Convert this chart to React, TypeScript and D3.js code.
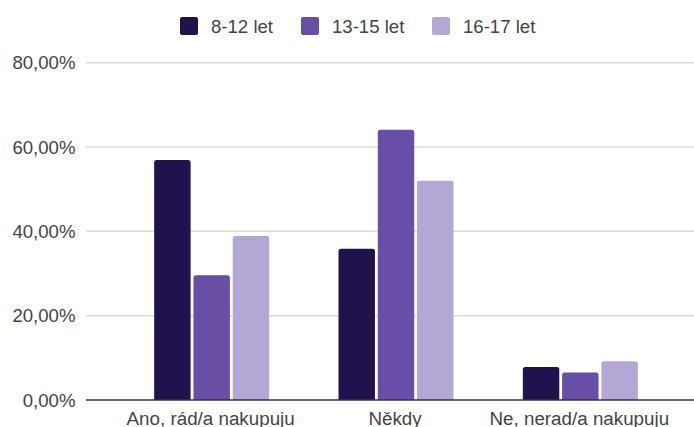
import React from "react";
import * as d3 from "d3";

const categories = ["Ano, rád/a nakupuju", "Někdy", "Ne, nerad/a nakupuju"];
const seriesNames = ["8-12 let", "13-15 let", "16-17 let"];
const seriesColors = ["#20124d", "#674ea7", "#b4a7d6"];
// values in percent, one array per age group, ordered like `categories`
const age8to12 = [56.9, 35.9, 7.8];
const age13to15 = [29.6, 64.1, 6.5];
const age16to17 = [38.9, 52.0, 9.2];
const yTicks = [0, 20, 40, 60, 80];

const W = 694;
const H = 427;
const FONT = "'Liberation Sans', Arial, sans-serif";

const seriesValues = [age8to12, age13to15, age16to17];

function topRoundedBar(x: number, y: number, w: number, h: number, r: number) {
  const rr = Math.min(r, h / 2, w / 2);
  return `M${x},${y + h}V${y + rr}Q${x},${y} ${x + rr},${y}H${x + w - rr}Q${x + w},${y} ${x + w},${y + rr}V${y + h}Z`;
}

export default function App() {
  const plotLeft = 86;
  const plotRight = 694;
  const y = d3.scaleLinear().domain([0, 80]).range([400, 62.7]);
  const x0 = d3.scaleBand<string>().domain(categories).range([119.5, 672.5]).padding(0);
  const groupWidth = 115;
  const x1 = d3
    .scaleBand<string>()
    .domain(seriesNames)
    .range([0, groupWidth])
    .paddingInner(0.072)
    .paddingOuter(0);

  const legendX = [180, 301, 432];

  return (
    <div style={{ position: "absolute", left: 0, top: 0 }}>
      <svg width={W} height={H} style={{ display: "block", background: "#fff" }}>
        {/* legend */}
        {seriesNames.map((name, i) => (
          <g key={name} transform={`translate(${legendX[i]},17)`}>
            <rect width={18} height={18} rx={2} fill={seriesColors[i]} />
            <text
              x={31}
              y={9}
              dy="0.35em"
              fontFamily={FONT}
              fontSize={18.6}
              fill="#444"
            >
              {name}
            </text>
          </g>
        ))}

        {/* gridlines and y labels */}
        {yTicks.map((t) => (
          <g key={t}>
            {t !== 0 && (
              <line
                x1={plotLeft}
                x2={plotRight}
                y1={y(t)}
                y2={y(t)}
                stroke="#dcdcdc"
                strokeWidth={1.5}
              />
            )}
            <text
              x={75.5}
              y={y(t)}
              dy="0.35em"
              textAnchor="end"
              fontFamily={FONT}
              fontSize={18.6}
              fill="#444"
            >
              {t.toFixed(2).replace(".", ",") + "%"}
            </text>
          </g>
        ))}

        {/* bars */}
        {categories.map((cat, ci) => {
          const gx = x0(cat)! + (x0.bandwidth() - groupWidth) / 2;
          return (
            <g key={cat} transform={`translate(${gx},0)`}>
              {seriesNames.map((s, si) => {
                const v = seriesValues[si][ci];
                const top = y(v);
                return (
                  <path
                    key={s}
                    d={topRoundedBar(x1(s)!, top, x1.bandwidth(), y(0) - top, 2.5)}
                    fill={seriesColors[si]}
                  />
                );
              })}
            </g>
          );
        })}

        {/* baseline */}
        <line
          x1={plotLeft}
          x2={plotRight}
          y1={y(0)}
          y2={y(0)}
          stroke="#333"
          strokeWidth={1.5}
        />

        {/* category labels */}
        {categories.map((cat) => (
          <text
            key={cat}
            x={x0(cat)! + x0.bandwidth() / 2 - 1}
            y={424.5}
            textAnchor="middle"
            fontFamily={FONT}
            fontSize={18.8}
            fill="#444"
          >
            {cat}
          </text>
        ))}
      </svg>
    </div>
  );
}
